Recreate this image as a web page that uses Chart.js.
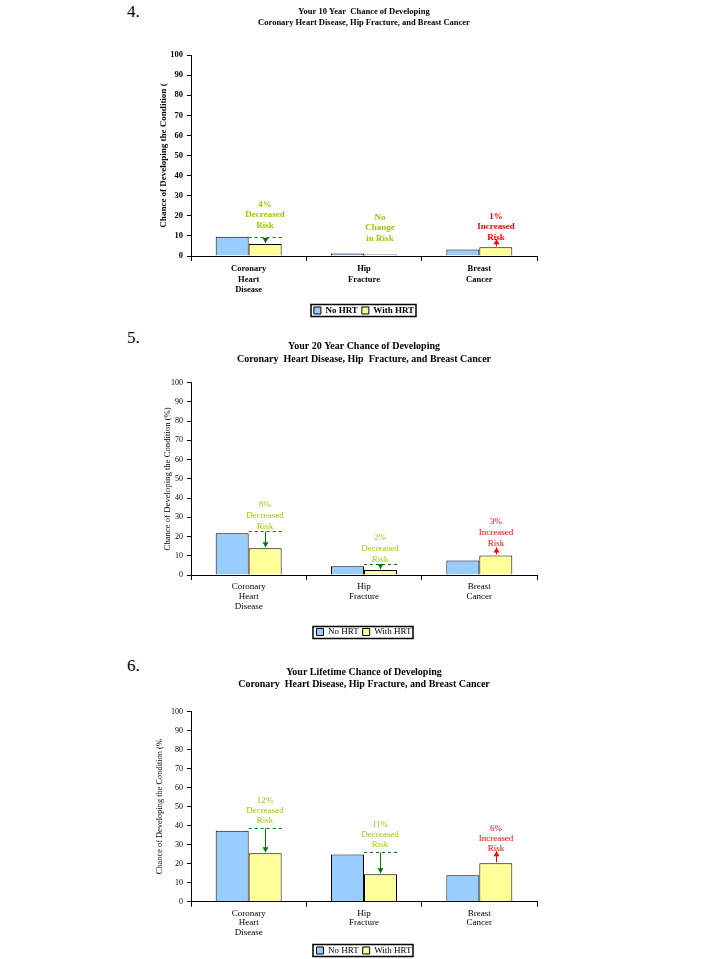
<!DOCTYPE html>
<html><head><meta charset="utf-8">
<script src="https://cdn.jsdelivr.net/npm/chart.js@4/dist/chart.umd.min.js"></script>
<style>
html,body{margin:0;padding:0;background:#fff;width:719px;height:959px;overflow:hidden;position:relative}
.num{position:absolute;left:127px;font-family:'Liberation Serif','Times New Roman',serif;font-size:17px;line-height:17px;color:#000}
.wrap{position:absolute;left:0;width:719px}
</style></head><body>
<div class="num" style="top:3px">4.</div>
<div class="num" style="top:329px">5.</div>
<div class="num" style="top:657px">6.</div>
<div class="wrap" id="w1" style="top:0px;height:325px"><canvas id="c1"></canvas></div>
<div class="wrap" id="w2" style="top:325px;height:325px"><canvas id="c2"></canvas></div>
<div class="wrap" id="w3" style="top:650px;height:315px"><canvas id="c3"></canvas></div>
<script>
// ---- data ----
const categories = [["Coronary","Heart","Disease"],["Hip","Fracture"],["Breast","Cancer"]];
const seriesNames = ["No HRT","With HRT"];
const yTicks = [0,10,20,30,40,50,60,70,80,90,100];

const title10 = ["Your 10 Year  Chance of Developing","Coronary Heart Disease, Hip Fracture, and Breast Cancer"];
const noHRT10 = [9.6, 1.3, 3.2];
const withHRT10 = [6.0, 0.8, 4.3];
const notes10 = [["4%","Decreased","Risk"],["No","Change","in Risk"],["1%","Increased","Risk"]];
const kinds10 = ["down","none","up"];
const yTitle10 = "Chance of Developing the Condition (";

const title20 = ["Your 20 Year Chance of Developing","Coronary  Heart Disease, Hip  Fracture, and Breast Cancer"];
const noHRT20 = [21.7, 4.5, 7.6];
const withHRT20 = [13.9, 2.6, 10.2];
const notes20 = [["8%","Decreased","Risk"],["2%","Decreased","Risk"],["3%","Increased","Risk"]];
const kinds20 = ["down","down","up"];
const yTitle20 = "Chance of Developing the Condition (%)";

const titleLife = ["Your Lifetime Chance of Developing","Coronary  Heart Disease, Hip Fracture, and Breast Cancer"];
const noHRTLife = [37.4, 24.9, 13.9];
const withHRTLife = [25.5, 14.4, 20.2];
const notesLife = [["12%","Decreased","Risk"],["11%","Decreased","Risk"],["6%","Increased","Risk"]];
const kindsLife = ["down","down","up"];
const yTitleLife = "Chance of Developing the Condition (%";

// ---- styles ----
const SERIF = "'Liberation Serif','Times New Roman',serif";
const BLUE = "#99CCFF", YELLOW = "#FFFF99";
const TXT_GREEN = "#99CC00", ARROW_GREEN = "#007A00", RED = "#FF0000";

function arrow(ctx, x, y0, y1, color){
  ctx.strokeStyle = color; ctx.fillStyle = color; ctx.lineWidth = 1;
  ctx.beginPath(); ctx.moveTo(x+0.5, y0); ctx.lineTo(x+0.5, y1); ctx.stroke();
  const dir = y1 > y0 ? 1 : -1;
  ctx.beginPath();
  ctx.moveTo(x+0.5, y1); ctx.lineTo(x-2.5, y1 - dir*5); ctx.lineTo(x+3.5, y1 - dir*5); ctx.closePath(); ctx.fill();
}

const riskNotes = {
  id: 'riskNotes',
  afterDatasetsDraw(chart, args, o){
    const ctx = chart.ctx;
    const mNo = chart.getDatasetMeta(0), mW = chart.getDatasetMeta(1);
    o.notes.forEach((lines, i) => {
      const bNo = mNo.data[i], bW = mW.data[i];
      const kind = o.kinds[i];
      const x = Math.round(bW.x), half = bW.width/2;
      ctx.save();
      let lastY, color;
      if (kind === 'down') {
        const yl = Math.round(bNo.y - o.lift) + 0.5;
        ctx.strokeStyle = ARROW_GREEN; ctx.lineWidth = 1; ctx.setLineDash([3,3]);
        ctx.beginPath(); ctx.moveTo(bW.x - half, yl); ctx.lineTo(bW.x + half + 1, yl); ctx.stroke();
        ctx.setLineDash([]);
        arrow(ctx, x, yl, bW.y - 1, ARROW_GREEN);
        lastY = yl - o.gapDown; color = TXT_GREEN;
      } else if (kind === 'up') {
        arrow(ctx, x, bW.y - 1, bW.y - 1 - o.upLen, RED);
        lastY = bW.y - o.gapUp; color = RED;
      } else {
        lastY = bW.y - o.gapNone; color = TXT_GREEN;
      }
      ctx.fillStyle = color; ctx.font = o.font; ctx.textAlign = 'center'; ctx.textBaseline = 'middle';
      lines.forEach((t, k) => ctx.fillText(t, x, lastY - (lines.length - 1 - k) * o.lh));
      ctx.restore();
    });
  }
};

const legendBox = {
  id: 'legendBox',
  afterDraw(chart){
    const hb = chart.legend && chart.legend.legendHitBoxes;
    if (!hb || !hb.length) return;
    let l=Infinity,r=-Infinity,t=Infinity,b=-Infinity;
    hb.forEach(h => { l=Math.min(l,h.left); r=Math.max(r,h.left+h.width); t=Math.min(t,h.top); b=Math.max(b,h.top+h.height); });
    const ctx = chart.ctx; ctx.save(); ctx.strokeStyle = '#000'; ctx.lineWidth = 1.5;
    ctx.strokeRect(Math.round(l) - 3, Math.round(t) - 1.5, Math.round(r - l) + 5, Math.round(b - t) + 3);
    ctx.restore();
  }
};

function makeChart(id, cfg){
  const bold = cfg.bold ? 'bold' : 'normal';
  return new Chart(document.getElementById(id), {
    type: 'bar',
    data: {
      labels: categories,
      datasets: [
        { label: seriesNames[0], data: cfg.no, backgroundColor: BLUE, borderColor: '#000', borderWidth: 1, borderSkipped: 'bottom' },
        { label: seriesNames[1], data: cfg.with, backgroundColor: YELLOW, borderColor: '#000', borderWidth: 1, borderSkipped: 'bottom' }
      ]
    },
    options: {
      responsive: true, maintainAspectRatio: false, animation: false,
      devicePixelRatio: 1,
      categoryPercentage: 0.572, barPercentage: 1.0,
      layout: { padding: { left: 150, right: 182, top: 0, bottom: cfg.padBottom } },
      scales: {
        x: {
          grid: { display: true, offset: true, drawOnChartArea: false, drawTicks: true, tickLength: 5, color: '#000' },
          border: { display: true, color: '#000', width: 1 },
          ticks: { color: '#000', padding: cfg.xPad, maxRotation: 0, autoSkip: false,
                   font: { family: SERIF, size: cfg.tickSize, weight: bold, lineHeight: cfg.xLh } },
          afterFit(s){ s.height = cfg.xHeight; }
        },
        y: {
          min: 0, max: 100,
          afterBuildTicks(s){ s.ticks = yTicks.map(v => ({ value: v })); },
          grid: { display: true, drawOnChartArea: false, drawTicks: true, tickLength: 4, color: '#000' },
          border: { display: true, color: '#000', width: 1 },
          ticks: { color: '#000', padding: 4, font: { family: SERIF, size: cfg.ySize, weight: bold } },
          title: { display: true, text: cfg.yTitle, color: '#000', padding: { top: cfg.yTitlePad, bottom: 0 },
                   font: { family: SERIF, size: cfg.yTitleSize, weight: bold, lineHeight: 1.2 } },
          afterFit(s){ s.width = 41; }
        }
      },
      plugins: {
        title: { display: true, text: cfg.title, fullSize: false, color: '#000',
                 padding: { top: cfg.titleTop, bottom: cfg.titleBottom },
                 font: { family: SERIF, size: cfg.titleSize, weight: 'bold', lineHeight: cfg.titleLh } },
        legend: { display: true, position: 'bottom', fullSize: false,
                  labels: { color: '#000', boxWidth: 7, boxHeight: 7, padding: 4,
                            font: { family: SERIF, size: 9, weight: bold } } },
        tooltip: { enabled: false },
        riskNotes: { notes: cfg.notes, kinds: cfg.kinds, font: bold + ' 9px ' + SERIF, lh: cfg.noteLh,
                     lift: cfg.lift, gapDown: cfg.gapDown, gapUp: cfg.gapUp, gapNone: cfg.gapNone, upLen: cfg.upLen }
      }
    },
    plugins: [riskNotes, legendBox]
  });
}

makeChart('c1', { no: noHRT10, with: withHRT10, notes: notes10, kinds: kinds10, title: title10, yTitle: yTitle10,
  bold: true, tickSize: 8.5, ySize: 8.5, xLh: '10.5px', xPad: 3, xHeight: 46, padBottom: 0,
  yTitlePad: 8, yTitleSize: 9, titleTop: 6.5, titleBottom: 26.5, titleSize: 8.5, titleLh: '11px',
  noteLh: 10.5, lift: 0, gapDown: 12, gapUp: 10, gapNone: 16, upLen: 7 });

makeChart('c2', { no: noHRT20, with: withHRT20, notes: notes20, kinds: kinds20, title: title20, yTitle: yTitle20,
  bold: false, tickSize: 9, ySize: 8, xLh: '10px', xPad: 2, xHeight: 48.5, padBottom: 3.5,
  yTitlePad: 12, yTitleSize: 8.7, titleTop: 14.5, titleBottom: 17.2, titleSize: 10, titleLh: '13px',
  noteLh: 11, lift: 2, gapDown: 5, gapUp: 12, gapNone: 16, upLen: 7 });

makeChart('c3', { no: noHRTLife, with: withHRTLife, notes: notesLife, kinds: kindsLife, title: titleLife, yTitle: yTitleLife,
  bold: false, tickSize: 9, ySize: 8, xLh: '9.5px', xPad: 2, xHeight: 40.3, padBottom: 0,
  yTitlePad: 4.6, yTitleSize: 8.4, titleTop: 16, titleBottom: 21.7, titleSize: 10, titleLh: '12px',
  noteLh: 10, lift: 2.5, gapDown: 8, gapUp: 15, gapNone: 16, upLen: 11 });
</script>
</body></html>
